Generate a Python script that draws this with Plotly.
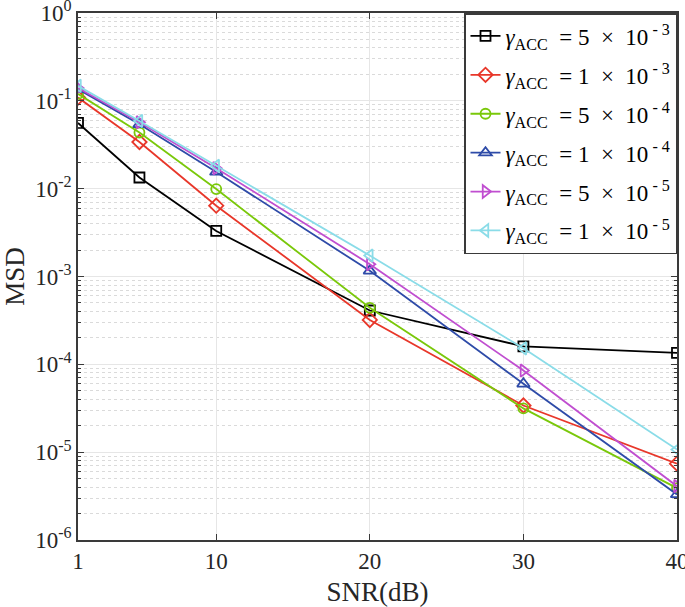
import plotly.graph_objects as go

snr = [1, 5, 10, 20, 30, 40]
NB = "\u00a0"
labels = [
    f"<i>γ</i><sub>ACC</sub>{NB} = 5 {NB}×{NB} 10<sup>{NB}- 3</sup>",
    f"<i>γ</i><sub>ACC</sub>{NB} = 1 {NB}×{NB} 10<sup>{NB}- 3</sup>",
    f"<i>γ</i><sub>ACC</sub>{NB} = 5 {NB}×{NB} 10<sup>{NB}- 4</sup>",
    f"<i>γ</i><sub>ACC</sub>{NB} = 1 {NB}×{NB} 10<sup>{NB}- 4</sup>",
    f"<i>γ</i><sub>ACC</sub>{NB} = 5 {NB}×{NB} 10<sup>{NB}- 5</sup>",
    f"<i>γ</i><sub>ACC</sub>{NB} = 1 {NB}×{NB} 10<sup>{NB}- 5</sup>",
]
msd_5e3 = [0.056, 0.0134, 0.0033, 4.1e-4, 1.6e-4, 1.35e-4]
msd_1e3 = [0.109, 0.034, 0.0064, 3.2e-4, 3.4e-5, 7.4e-6]
msd_5e4 = [0.120, 0.0436, 0.0099, 4.4e-4, 3.15e-5, 3.9e-6]
msd_1e4 = [0.136, 0.054, 0.0155, 1.16e-3, 6.0e-5, 3.3e-6]
msd_5e5 = [0.140, 0.057, 0.0171, 1.38e-3, 8.5e-5, 4.1e-6]
msd_1e5 = [0.148, 0.059, 0.0182, 1.73e-3, 1.52e-4, 1.07e-5]

series = [msd_5e3, msd_1e3, msd_5e4, msd_1e4, msd_5e5, msd_1e5]
colors = ["#000000", "#E8372A", "#7AC80A", "#2E4BA8", "#C04ED0", "#8ADCE8"]
symbols = ["square-open", "diamond-open", "circle-open", "triangle-up-open",
           "triangle-right-open", "triangle-left-open"]
sizes = [10, 11, 10, 11, 11, 11]

yticks = [1, 1e-1, 1e-2, 1e-3, 1e-4, 1e-5, 1e-6]
yticktext = ["10<sup>0</sup>", "10<sup>-1</sup>", "10<sup>-2</sup>", "10<sup>-3</sup>",
             "10<sup>-4</sup>", "10<sup>-5</sup>", "10<sup>-6</sup>"]
xticks = [1, 10, 20, 30, 40]

fig = go.Figure()
for i, (lab, ys, c, s, sz) in enumerate(zip(labels, series, colors, symbols, sizes)):
    fig.add_trace(go.Scatter(
        x=snr, y=ys, name=lab, mode="lines+markers", legendgroup=f"g{i}",
        line=dict(color=c, width=1.8),
        marker=dict(symbol=s, size=sz, color=c, line=dict(color=c, width=1.8)),
    ))

font_family = "Liberation Serif, Times New Roman, serif"
axis_col = "#3A3A3A"
fig.update_layout(
    width=685, height=607,
    margin=dict(l=78, r=8, t=13, b=67),
    paper_bgcolor="white", plot_bgcolor="white",
    font=dict(family=font_family, size=22, color="#262626"),
    showlegend=True,
    legend=dict(
        x=1, y=1, xanchor="right", yanchor="top",
        bgcolor="white", bordercolor=axis_col, borderwidth=1.5,
        font=dict(family=font_family, size=23, color="#000000"),
        tracegroupgap=6,
    ),
    xaxis=dict(
        range=[1, 40], tickvals=xticks, ticks="inside", ticklen=6,
        tickcolor=axis_col, showline=True, linecolor=axis_col, linewidth=1.5,
        mirror="ticks", showgrid=True, gridcolor="#E6E6E6", gridwidth=1,
        zeroline=False, ticklabeloverflow="allow", automargin=False,
        title=dict(text="SNR(dB)", font=dict(size=27)),
        tickfont=dict(size=23),
    ),
    yaxis=dict(
        type="log", range=[-6, 0], tickvals=yticks, ticktext=yticktext,
        ticks="inside", ticklen=6, tickcolor=axis_col,
        showline=True, linecolor=axis_col, linewidth=1.5, mirror="ticks",
        showgrid=True, gridcolor="#E6E6E6", gridwidth=1, zeroline=False,
        ticklabeloverflow="allow", automargin=False,
        minor=dict(ticks="inside", ticklen=3, tickcolor=axis_col, dtick="D1",
                   showgrid=True, gridcolor="#DADADA", griddash="dot", gridwidth=1),
        title=dict(text="MSD", font=dict(size=27)),
        tickfont=dict(size=23),
    ),
)

fig.write_html(
    "out.html",
    config={"displayModeBar": False},
    post_script="document.body.style.margin='0';document.body.style.overflow='hidden';",
)
